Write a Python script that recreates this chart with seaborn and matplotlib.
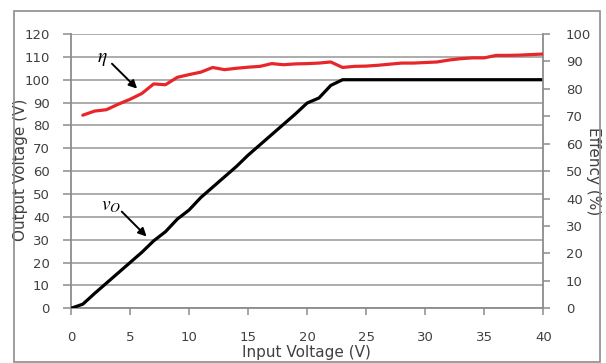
import matplotlib
matplotlib.use("Agg")
import matplotlib.pyplot as plt
import seaborn as sns
import pandas as pd
from matplotlib.patches import Rectangle

sns.set_theme(style="white")
plt.rcParams["font.family"] = ["DejaVu Sans"]
plt.rcParams["mathtext.fontset"] = "stix"

# Input voltage sweep (V)
vin = list(range(0, 41))
# Output voltage (V)
vout = [0, 1.8, 6.5, 11, 15.5, 20, 24.5, 29.5, 33.5, 39, 43, 48.5, 53, 57.5, 62,
        67, 71.5, 76, 80.5, 85, 89.8, 92, 97.5, 100, 100, 100, 100, 100, 100,
        100, 100, 100, 100, 100, 100, 100, 100, 100, 100, 100, 100]
# Efficiency (%) measured from 1 V upward
vin_eff = list(range(1, 41))
eff = [70.4, 71.9, 72.4, 74.4, 76.2, 78.3, 81.8, 81.5, 84.2, 85.2, 86.1, 87.8,
       87.0, 87.5, 87.9, 88.2, 89.2, 88.8, 89.1, 89.2, 89.4, 89.8, 87.8, 88.2,
       88.3, 88.6, 89.0, 89.4, 89.4, 89.6, 89.8, 90.5, 91.0, 91.3, 91.3, 92.2,
       92.2, 92.3, 92.5, 92.7]

left_ticks = list(range(0, 121, 10))
right_ticks = list(range(0, 101, 10))
x_ticks = list(range(0, 41, 5))

df_v = pd.DataFrame({"vin": vin, "vout": vout})
df_e = pd.DataFrame({"vin": vin_eff, "eff": eff})

grid_c = "#a6a6a6"
axis_c = "#8c8c8c"
text_c = "#404040"

fig = plt.figure(figsize=(6.06, 3.63), dpi=100)
ax = fig.add_axes([71 / 606, 1 - 308.3 / 363, (543.3 - 71) / 606, (308.3 - 34) / 363])
ax2 = ax.twinx()

sns.lineplot(data=df_v, x="vin", y="vout", ax=ax, color="black", linewidth=2.3, zorder=4)
sns.lineplot(data=df_e, x="vin", y="eff", ax=ax2, color="#e8262a", linewidth=2.3, zorder=4)

ax.set_xlim(0, 40)
ax.set_ylim(0, 120)
ax2.set_ylim(0, 100)
ax.set_xticks(x_ticks)
ax.set_yticks(left_ticks)
ax2.set_yticks(right_ticks)

ax.yaxis.grid(True, color=grid_c, linewidth=1.3)
ax.xaxis.grid(False)
ax2.grid(False)
ax.set_axisbelow(True)

for a in (ax, ax2):
    a.spines["top"].set_visible(False)
    for s in ("left", "right", "bottom"):
        a.spines[s].set_color(axis_c)
        a.spines[s].set_linewidth(1.3)
    a.tick_params(colors=text_c, labelsize=9.5, width=1.1,
                  color=axis_c, direction="out")
ax.spines["right"].set_visible(False)
ax2.spines["left"].set_visible(False)
ax2.spines["bottom"].set_visible(False)
ax.tick_params(axis="y", left=True, length=5.8, pad=9.4)
ax.tick_params(axis="x", bottom=True, length=5, pad=11.5)
ax2.tick_params(axis="y", right=True, length=5, pad=11.3)

ax.set_xlabel("")
ax.set_ylabel("")
ax2.set_ylabel("")
fig.text(21 / 606, 1 - 170 / 363, "Output Voltage (V)", rotation=90, ha="center",
         va="center", fontsize=11, color=text_c)
fig.text(593 / 606, 1 - 171 / 363, "Effency (%)", rotation=270, ha="center",
         va="center", fontsize=11, color=text_c)
fig.text(306 / 606, 1 - 357 / 363, "Input Voltage (V)", ha="center",
         va="baseline", fontsize=11, color=text_c)

# curve labels with arrows
arrow_kw = dict(arrowstyle="-|>", color="black", lw=1.4,
                shrinkA=0, shrinkB=0, mutation_scale=12)
ax.text(2.64, 109.2, r"$\eta$", ha="center", va="center", fontsize=14, color="black")
ax.annotate("", xy=(5.6, 96.1), xytext=(3.47, 107.0), arrowprops=arrow_kw)
ax.text(3.4, 45.0, r"$v_O$", ha="center", va="center", fontsize=14, color="black")
ax.annotate("", xy=(6.4, 31.4), xytext=(4.3, 42.3), arrowprops=arrow_kw)

# chart area border
fig.patches.append(Rectangle((14 / 606, 1 - 362 / 363), (600 - 14) / 606, (362 - 11) / 363,
                             transform=fig.transFigure, fill=False,
                             edgecolor="#8c8c8c", linewidth=1.2, zorder=10))

fig.savefig("out.png", dpi=100)
